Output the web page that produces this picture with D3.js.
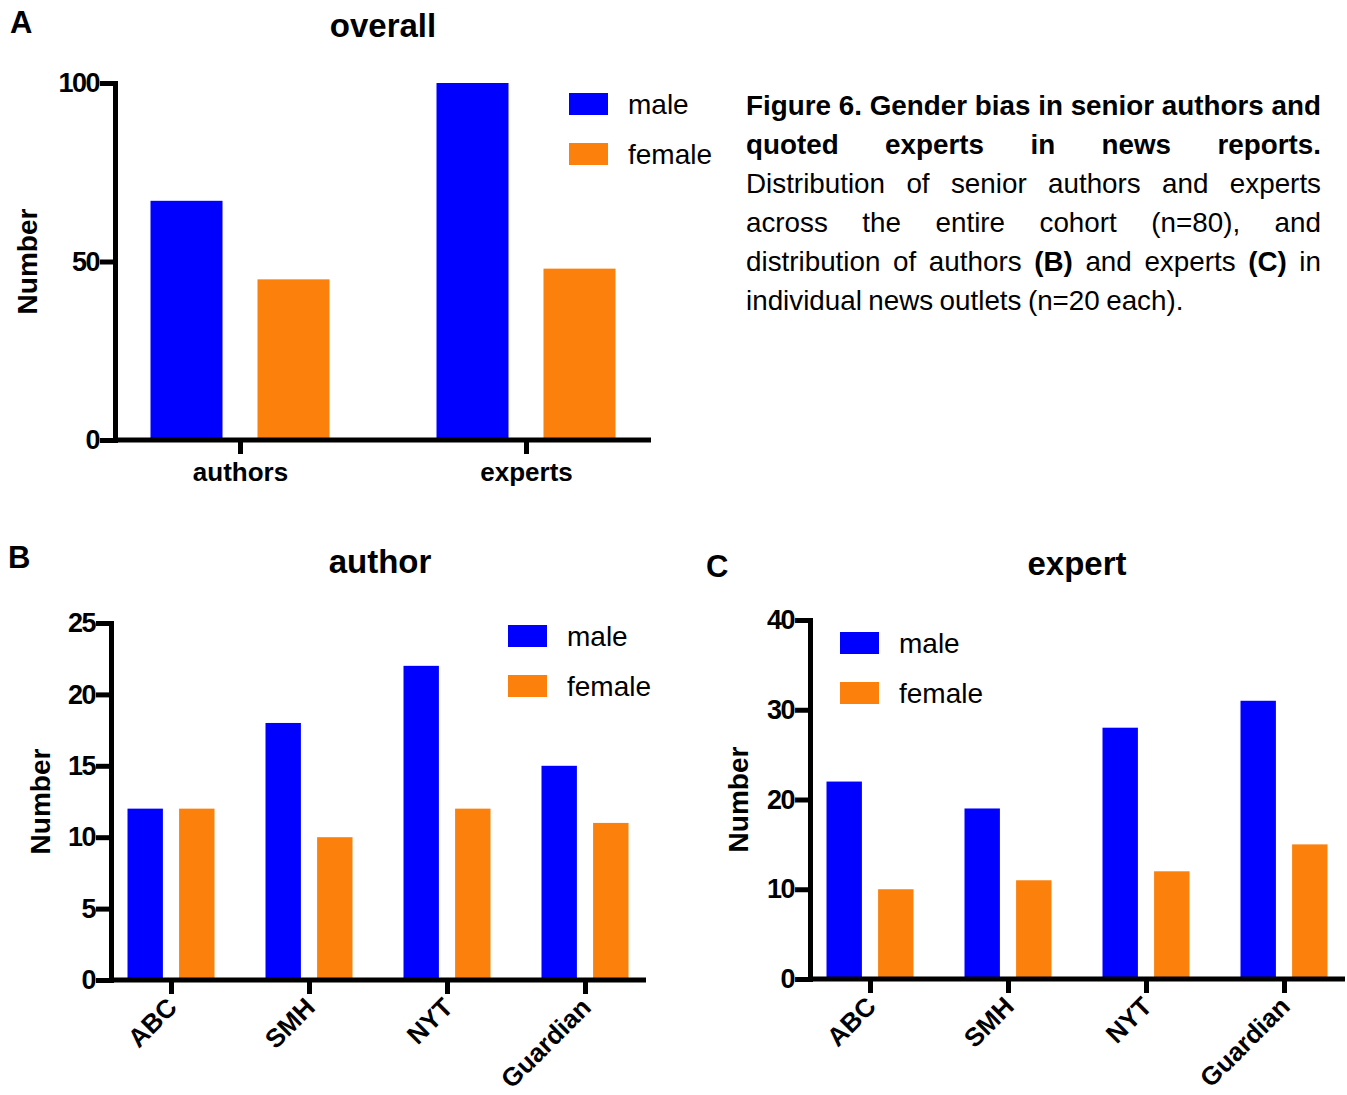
<!DOCTYPE html>
<html>
<head>
<meta charset="utf-8">
<script src="https://cdn.jsdelivr.net/npm/d3@7"></script>
<style>
  body { margin: 0; background: #fff; }
  text { font-family: "Liberation Sans", Arial, sans-serif; }
</style>
</head>
<body>
<div id="chart"></div>
<script>
// series + categories
const seriesNames = ["male", "female"];

const overallCats = ["authors", "experts"];
const overallMale = [67, 100];
const overallFemale = [45, 48];
const overallTicks = [0, 50, 100];

const outlets = ["ABC", "SMH", "NYT", "Guardian"];
const authorMale = [12, 18, 22, 15];
const authorFemale = [12, 10, 12, 11];
const authorTicks = [0, 5, 10, 15, 20, 25];

const expertMale = [22, 19, 28, 31];
const expertFemale = [10, 11, 12, 15];
const expertTicks = [0, 10, 20, 30, 40];

const colors = { male: "#0000ff", female: "#fb800c" };

// caption text, [words, bold]
const captionLines = [
    [["Figure 6. Gender bias in senior authors and", true]],
    [["quoted experts in news reports.", true]],
    [["Distribution of senior authors and experts", false]],
    [["across the entire cohort (n=80), and", false]],
    [["distribution of authors", false], ["(B)", true], ["and experts", false], ["(C)", true], ["in", false]],
    [["individual news outlets (n=20 each).", false]]
];

const width = 1347, height = 1095;

const svg = d3.select("#chart")
    .append("svg")
    .attr("width", width)
    .attr("height", height);

// Function to draw one grouped bar panel
function drawPanel(cfg) {
    const g = svg.append("g");

    const y = d3.scaleLinear()
        .domain([0, cfg.ticks[cfg.ticks.length - 1]])
        .range([cfg.bottom, cfg.top]);

    const x = d3.scalePoint()
        .domain(cfg.cats)
        .range([cfg.firstX, cfg.lastX]);

    const inner = d3.scaleBand()
        .domain(seriesNames)
        .range([-cfg.groupW / 2, cfg.groupW / 2])
        .paddingInner(cfg.pad);

    const rows = cfg.cats.map((c, i) => ({ cat: c, male: cfg.male[i], female: cfg.female[i] }));

    // bars
    g.selectAll("g.grp")
        .data(rows)
        .join("g")
        .attr("class", "grp")
        .attr("transform", d => `translate(${x(d.cat)},0)`)
        .selectAll("rect")
        .data(d => seriesNames.map(s => ({ s: s, v: d[s] })))
        .join("rect")
        .attr("x", d => inner(d.s))
        .attr("width", inner.bandwidth())
        .attr("y", d => y(d.v))
        .attr("height", d => y(0) - y(d.v))
        .attr("fill", d => colors[d.s]);

    // x axis line
    g.append("line")
        .attr("x1", cfg.left)
        .attr("x2", cfg.right)
        .attr("y1", y(0))
        .attr("y2", y(0))
        .attr("stroke", "#000")
        .attr("stroke-width", 5);

    // x ticks + labels
    const xAxis = g.append("g")
        .attr("transform", `translate(0,${y(0)})`)
        .call(d3.axisBottom(x).tickSize(14).tickSizeOuter(0));
    xAxis.select(".domain").remove();
    xAxis.selectAll(".tick line").attr("stroke", "#000").attr("stroke-width", 5);
    const xt = xAxis.selectAll(".tick text")
        .attr("fill", "#000")
        .style("font-weight", "bold");
    if (cfg.rotate) {
        xt.attr("x", 0).attr("y", 0).attr("dy", "0.71em")
            .style("font-size", "26px")
            .attr("text-anchor", "end")
            .attr("transform", `translate(${cfg.labDx},${cfg.labDy}) rotate(-45)`);
    } else {
        xt.attr("y", 23).attr("dy", "0.71em").style("font-size", "26px");
    }

    // y axis
    const yAxis = g.append("g")
        .attr("transform", `translate(${cfg.left},0)`)
        .call(d3.axisLeft(y).tickValues(cfg.ticks).tickSize(15).tickSizeOuter(0).tickPadding(1));
    yAxis.select(".domain").attr("stroke", "#000").attr("stroke-width", 5).attr("stroke-linecap", "square");
    yAxis.selectAll(".tick line").attr("stroke", "#000").attr("stroke-width", 5);
    yAxis.selectAll(".tick text")
        .attr("fill", "#000")
        .style("font-size", "27px")
        .style("font-weight", "bold")
        .style("letter-spacing", "-1.5px");

    // y label
    g.append("text")
        .attr("transform", `translate(${cfg.ylabX},${(cfg.top + cfg.bottom) / 2}) rotate(-90)`)
        .attr("text-anchor", "middle")
        .style("font-size", "28px")
        .style("font-weight", "bold")
        .text("Number");

    // title
    g.append("text")
        .attr("x", cfg.titleX)
        .attr("y", cfg.titleY)
        .attr("text-anchor", "middle")
        .style("font-size", "33px")
        .style("font-weight", "bold")
        .text(cfg.title);

    // panel letter
    g.append("text")
        .attr("x", cfg.letterX)
        .attr("y", cfg.letterY)
        .style("font-size", "31px")
        .style("font-weight", "bold")
        .text(cfg.letter);

    // legend
    const legend = g.selectAll(".legend")
        .data(seriesNames)
        .join("g")
        .attr("class", "legend")
        .attr("transform", (d, i) => `translate(${cfg.legX},${cfg.legY + i * 50})`);
    legend.append("rect")
        .attr("width", 39)
        .attr("height", 22)
        .attr("fill", d => colors[d]);
    legend.append("text")
        .attr("x", 59)
        .attr("y", 11)
        .attr("dy", "0.35em")
        .style("font-size", "28px")
        .text(d => d);
}

drawPanel({
    cats: overallCats, male: overallMale, female: overallFemale, ticks: overallTicks,
    left: 115, right: 651, top: 83, bottom: 440, firstX: 240, lastX: 526, groupW: 179, pad: 0.327,
    rotate: false, ylabX: 37, title: "overall", titleX: 383, titleY: 37,
    letter: "A", letterX: 10, letterY: 33, legX: 569, legY: 93
});

drawPanel({
    cats: outlets, male: authorMale, female: authorFemale, ticks: authorTicks,
    left: 111, right: 646, top: 623, bottom: 980, firstX: 171, lastX: 585, groupW: 87, pad: 0.314,
    rotate: true, labDx: -6, labDy: 16, ylabX: 50, title: "author", titleX: 380, titleY: 573,
    letter: "B", letterX: 8, letterY: 568, legX: 508, legY: 625
});

drawPanel({
    cats: outlets, male: expertMale, female: expertFemale, ticks: expertTicks,
    left: 810, right: 1345, top: 620, bottom: 979, firstX: 870, lastX: 1284, groupW: 87, pad: 0.314,
    rotate: true, labDx: -6, labDy: 16, ylabX: 748, title: "expert", titleX: 1077, titleY: 575,
    letter: "C", letterX: 706, letterY: 577, legX: 840, legY: 632
});

// caption, justified block
const capLeft = 746, capRight = 1321, capTop = 115, capLead = 39;
const cap = svg.append("g").style("font-family", "Lato, 'Open Sans', sans-serif");

const lineWords = captionLines.map(segs => {
    const words = [];
    segs.forEach(([t, b]) => t.split(" ").forEach(w => words.push({ w: w, b: b })));
    return words;
});

// measure natural width at 20px to pick a size
const probe = cap.append("text").style("font-size", "20px");
function naturalWidth(words) {
    probe.selectAll("tspan").remove();
    words.forEach((d, i) => probe.append("tspan")
        .style("font-weight", d.b ? "bold" : "normal")
        .text((i ? " " : "") + d.w));
    return probe.node().getComputedTextLength();
}
const widths = lineWords.map(naturalWidth);
probe.remove();
let fs = 20 * 467 / widths[5];
for (let i = 0; i < 5; i++) fs = Math.min(fs, 20 * (capRight - capLeft) / widths[i]);

lineWords.forEach((words, li) => {
    const t = cap.append("text")
        .attr("y", capTop + li * capLead)
        .style("font-size", fs + "px")
        .attr("fill", "#000");
    const spans = words.map(d => t.append("tspan")
        .style("font-weight", d.b ? "bold" : "normal")
        .text(d.w));
    const ws = spans.map(s => s.node().getComputedTextLength());
    const total = d3.sum(ws);
    const spaceW = fs * 0.23;
    const gap = li < 5 ? (capRight - capLeft - total) / (words.length - 1) : spaceW;
    let xPos = capLeft;
    spans.forEach((s, i) => {
        s.attr("x", xPos);
        xPos += ws[i] + gap;
    });
});
</script>
</body>
</html>
